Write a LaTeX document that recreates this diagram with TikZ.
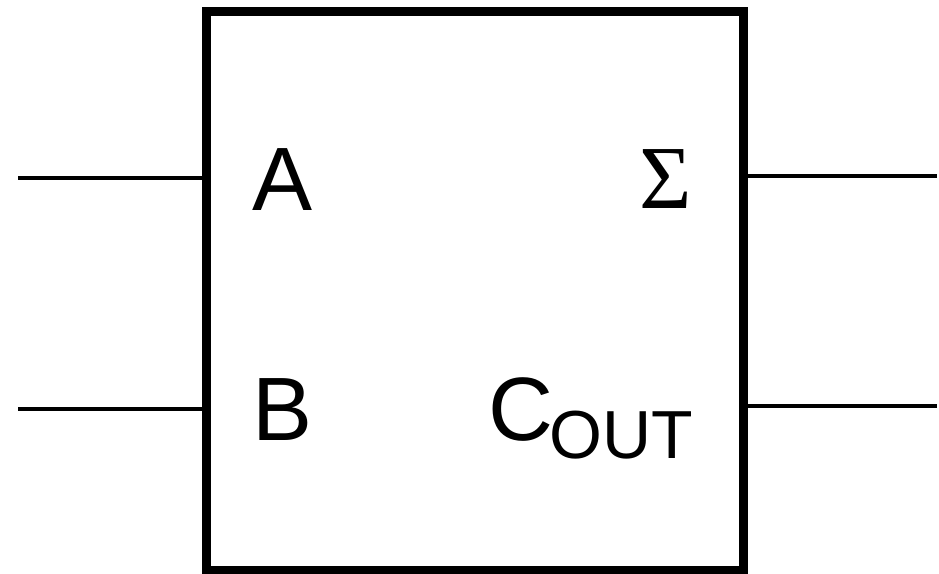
\documentclass[tikz,border=0pt]{standalone}
\usepackage{fontspec}
\setmainfont{Liberation Sans}
\newfontfamily\sigmafont{Liberation Serif}
\begin{document}
\begin{tikzpicture}[
            x=1pt, y=-1pt,
            every node/.style={font=\fontsize{90}{100}\selectfont},
            adder/.style={
                rectangle,
                draw=black,
                line width=9pt,
                minimum width=537pt,
                minimum height=559pt,
                inner sep=0pt
            },
            wire/.style={
                line width=4.5pt,
                draw=black
            },
            port/.style={
                inner sep=0pt,
                anchor=base east
            }
        ]
            \useasboundingbox (0,0) rectangle (939,573);

            % Adder block
            \node[adder] (box) at (474.5,290.5) {};

            % Port labels
            \node[port] (lblA) at (313,210) {A};
            \node[port] (lblB) at (313,440) {B};
            \node[port] (lblS) at (692,208) {\sigmafont Σ};
            \node[port] (lblC) at (693,440) {C\hspace{-4pt}\raisebox{-18pt}{\fontsize{68}{68}\selectfont OUT}};

            % Wire ends
            \coordinate (inA) at (18,178);
            \coordinate (inB) at (18,409);
            \coordinate (outS) at (937,176);
            \coordinate (outC) at (937,406);

            % Wires
            \draw[wire] (inA) -- (inA -| box.west);
            \draw[wire] (inB) -- (inB -| box.west);
            \draw[wire] (box.east |- outS) -- (outS);
            \draw[wire] (box.east |- outC) -- (outC);
        \end{tikzpicture}
\end{document}
